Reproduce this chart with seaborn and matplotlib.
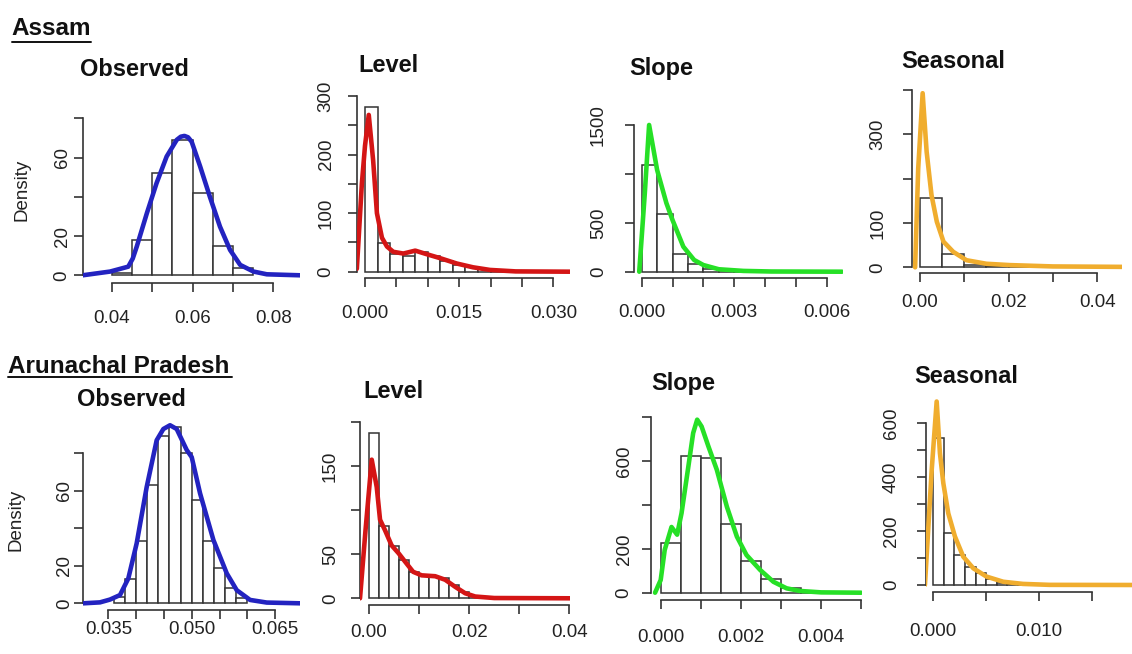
import numpy as np
import pandas as pd
import matplotlib
matplotlib.use("Agg")
import matplotlib.pyplot as plt
from matplotlib.lines import Line2D
import seaborn as sns

sns.set_theme(style="ticks")
plt.rcParams["font.family"] = ["Liberation Sans", "DejaVu Sans"]

# ---------------- Assam ----------------
assam_obs_edges = np.linspace(0.040, 0.075, 8)
assam_obs_hist = [1, 18, 52, 69, 42, 15, 3.6]
assam_obs_x = [0.0328, 0.0396, 0.0441, 0.0452, 0.0462, 0.0487, 0.0511, 0.0536, 0.0561,
               0.0571, 0.0580, 0.0589, 0.0598, 0.0619, 0.0643, 0.0668, 0.0693, 0.0718,
               0.0751, 0.0784, 0.0866]
assam_obs_y = [0, 1.9, 4.4, 8.5, 14.6, 31.6, 46.9, 60.5, 69, 70.6, 71, 70.3, 68, 55.4,
               40, 24.8, 12.9, 5.3, 1.9, 0.5, 0]

assam_level_edges = np.linspace(0.0, 0.024, 13)
assam_level_hist = [282, 49, 31, 27, 33, 26, 18, 12, 8, 5, 3, 2]
assam_level_x = [-0.0013, -0.0005, 0.0000, 0.0006, 0.0013, 0.0019, 0.0027, 0.0035, 0.0045,
                 0.0061, 0.0080, 0.0098, 0.0120, 0.0146, 0.0172, 0.0199, 0.0240, 0.0326]
assam_level_y = [5, 150, 215, 268, 190, 100, 58, 43, 34, 31, 36, 30, 23, 14, 7.5, 3, 0.5, 0]

assam_slope_edges = np.linspace(0.0, 0.0045, 10)
assam_slope_hist = [1091, 587, 181, 79, 30, 15, 8, 4, 2]
assam_slope_x = [-0.00008, 0.0001, 0.00024, 0.0005, 0.0008, 0.0010, 0.00135, 0.0017,
                 0.0020, 0.0025, 0.0033, 0.0042, 0.0065]
assam_slope_y = [0, 800, 1500, 1040, 702, 528, 256, 120, 68, 25, 8, 2, 0]

assam_seas_edges = np.linspace(0.0, 0.045, 10)
assam_seas_hist = [157, 29, 6, 3, 2, 1, 1, 0.5, 0.5]
assam_seas_x = [-0.0011, -0.0004, 0.0006, 0.0015, 0.0026, 0.0038, 0.0053, 0.0075, 0.0105,
                0.0150, 0.0203, 0.0300, 0.0457]
assam_seas_y = [0, 223, 393, 261, 163, 103, 58, 35, 16, 8, 5, 2, 1]

# ---------------- Arunachal Pradesh ----------------
arun_obs_edges = np.linspace(0.036, 0.060, 13)
arun_obs_hist = [3.5, 13, 33, 63, 89, 94, 80, 55, 33, 19, 8, 3]
arun_obs_x = [0.0305, 0.0335, 0.0353, 0.0371, 0.0386, 0.0401, 0.0419, 0.0437, 0.0449,
              0.0461, 0.0473, 0.0491, 0.0500, 0.0515, 0.0539, 0.0563, 0.0581, 0.0605,
              0.0635, 0.0695]
arun_obs_y = [0, 0.5, 2, 4.4, 13.3, 32, 62, 87, 93, 95, 93, 81.8, 78, 58.7, 33.8, 16, 7,
              1.8, 0.4, 0]

arun_level_edges = np.linspace(0.0, 0.024, 13)
arun_level_hist = [187.5, 82, 59, 43, 30, 25, 24.5, 22.6, 15, 7.5, 2.6, 1]
arun_level_x = [-0.0018, -0.0007, 0.00054, 0.00154, 0.0022, 0.0032, 0.0045, 0.0059, 0.0072,
                0.0088, 0.0105, 0.0132, 0.0152, 0.0172, 0.0192, 0.0212, 0.0250, 0.0401]
arun_level_y = [0, 77, 157, 126, 89, 77, 60, 51, 41.5, 30, 26, 25, 21, 13, 5.7, 2, 0.3, 0]

arun_slope_edges = np.linspace(0.0, 0.004, 9)
arun_slope_hist = [225, 625, 614, 312, 146, 62.5, 20, 5]
arun_slope_x = [-0.00014, 0.0, 0.0001, 0.00027, 0.00041, 0.00052, 0.00069, 0.00081,
                0.00091, 0.00102, 0.00119, 0.0014, 0.00165, 0.0019, 0.00214, 0.00248,
                0.00281, 0.00314, 0.00347, 0.0040, 0.0050]
arun_slope_y = [0, 58, 195, 300, 265, 363, 576, 729, 790, 759, 668, 561, 393, 256, 172,
                104, 50, 20, 8, 1.5, 0]

arun_seas_edges = np.linspace(0.0, 0.010, 11)
arun_seas_hist = [545, 194, 110, 66, 46, 22, 9, 4, 2, 1]
arun_seas_x = [-0.00079, -0.00015, 0.00032, 0.00063, 0.00095, 0.00142, 0.00205, 0.00284,
               0.00379, 0.00505, 0.00663, 0.0085, 0.011, 0.0188]
arun_seas_y = [0, 427, 681, 489, 378, 266, 180, 105, 62, 31, 12, 4, 0.5, 0]

# ---------------- panel titles ----------------
region_names = ["Assam", "Arunachal Pradesh"]
component_titles = ["Observed", "Level", "Slope", "Seasonal"]

BLUE, RED, GREEN, ORANGE = "#2323c0", "#d41515", "#26e026", "#f0ad2e"
INK = "#333333"

W, H = 1132, 654
fig = plt.figure(figsize=(W / 100, H / 100), dpi=100)


def px_axes(left, top, right, bottom):
    return fig.add_axes([left / W, 1 - bottom / H, (right - left) / W, (bottom - top) / H])


def panel(rect, xlim, ylim, xt, xl, yt, yl, edges, hist, cx, cy, color, xpad, ypad):
    ax = px_axes(*rect)
    edges = [float(e) for e in edges]
    centers = [(a + b) / 2 for a, b in zip(edges[:-1], edges[1:])]
    bins_df = pd.DataFrame({"value": centers, "density": [float(h) for h in hist]})
    sns.histplot(data=bins_df, x="value", weights="density", bins=edges, stat="count",
                 ax=ax, color="white", edgecolor=INK, linewidth=1.1, alpha=1, zorder=2)
    curve_df = pd.DataFrame({"value": cx, "density": cy})
    sns.lineplot(data=curve_df, x="value", y="density", ax=ax, color=color, lw=3.3,
                 sort=False, estimator=None, zorder=3)
    ax.set_xlim(*xlim)
    ax.set_ylim(*ylim)
    for s in ("top", "right"):
        ax.spines[s].set_visible(False)
    for s in ("left", "bottom"):
        ax.spines[s].set_color(INK)
        ax.spines[s].set_linewidth(1.2)
    ax.spines["left"].set_bounds(yt[0], yt[-1])
    ax.spines["bottom"].set_bounds(xt[0], xt[-1])
    ax.set_xticks(xt)
    ax.set_xticklabels(xl)
    ax.set_yticks(yt)
    ax.set_yticklabels(yl, rotation=90, va="center")
    ax.tick_params(direction="out", length=6.5, width=1.2, colors=INK,
                   labelcolor="#222222", labelsize=13.5)
    ax.tick_params(axis="x", pad=xpad * 0.72)
    ax.tick_params(axis="y", pad=ypad * 0.72)
    ax.set_xlabel("")
    ax.set_ylabel("")
    ax.patch.set_alpha(0)
    return ax


# top row: Assam
panel((82.7, 110, 300, 283.3), (0.03282, 0.08661), (-4.08, 84.2),
      [0.04, 0.05, 0.06, 0.07, 0.08], ["0.04", "", "0.06", "", "0.08"],
      [0, 20, 40, 60, 80], ["0", "20", "", "60", ""],
      assam_obs_edges, assam_obs_hist, assam_obs_x, assam_obs_y, BLUE, 18, 3)
panel((356.7, 90, 570, 278.3), (-0.00132, 0.03264), (-11.3, 310.6),
      [0, 0.005, 0.010, 0.015, 0.020, 0.025, 0.030],
      ["0.000", "", "", "0.015", "", "", "0.030"],
      [0, 50, 100, 150, 200, 250, 300], ["0", "", "100", "", "200", "", "300"],
      assam_level_edges, assam_level_hist, assam_level_x, assam_level_y, RED, 18, 13)
panel((634, 115, 843.3, 278.3), (-0.00025, 0.006539), (-67.5, 1602),
      [0, 0.001, 0.002, 0.003, 0.004, 0.005, 0.006],
      ["0.000", "", "", "0.003", "", "", "0.006"],
      [0, 500, 1000, 1500], ["0", "500", "", "1500"],
      assam_slope_edges, assam_slope_hist, assam_slope_x, assam_slope_y, GREEN, 17, 18)
panel((911.7, 85, 1122, 273.3), (-0.00187, 0.0456), (-13.5, 411.5),
      [0, 0.01, 0.02, 0.03, 0.04], ["0.00", "", "0.02", "", "0.04"],
      [0, 100, 200, 300, 400], ["0", "100", "", "300", ""],
      assam_seas_edges, assam_seas_hist, assam_seas_x, assam_seas_y, ORANGE, 12, 16)

# bottom row: Arunachal Pradesh
panel((83.3, 420, 300, 610), (0.0305, 0.06948), (-3.57, 97.8),
      [0.035, 0.040, 0.045, 0.050, 0.055, 0.060, 0.065],
      ["0.035", "", "", "0.050", "", "", "0.065"],
      [0, 20, 40, 60, 80], ["0", "20", "", "60", ""],
      arun_obs_edges, arun_obs_hist, arun_obs_x, arun_obs_y, BLUE, 2, 1)
panel((360, 415, 570, 605), (-0.0018, 0.04012), (-7.6, 207.6),
      [0, 0.01, 0.02, 0.03, 0.04], ["0.00", "", "0.02", "", "0.04"],
      [0, 50, 100, 150, 200], ["0", "50", "", "150", ""],
      arun_level_edges, arun_level_hist, arun_level_x, arun_level_y, RED, 10, 12)
panel((650.7, 412, 862, 600), (-0.000249, 0.00502), (-33.3, 825),
      [0, 0.001, 0.002, 0.003, 0.004, 0.005],
      ["0.000", "", "0.002", "", "0.004", ""],
      [0, 200, 400, 600, 800], ["0", "200", "", "600", ""],
      arun_slope_edges, arun_slope_hist, arun_slope_x, arun_slope_y, GREEN, 20, 9)
panel((926, 398, 1132, 591.7), (-0.00069, 0.01882), (-24.9, 694),
      [0, 0.005, 0.010, 0.015], ["0.000", "", "0.010", ""],
      [0, 100, 200, 300, 400, 500, 600], ["0", "", "200", "", "400", "", "600"],
      arun_seas_edges, arun_seas_hist, arun_seas_x, arun_seas_y, ORANGE, 22, 17)


def ftext(x, y, s, **kw):
    return fig.text(x / W, 1 - y / H, s, **kw)


# region headings, underlined
for name, (x0, yc, x1, yu) in zip(region_names, [(11.7, 28.3, 90.7, 41.5),
                                                  (8.3, 366.7, 232.3, 376.7)]):
    ftext(x0, yc, name, ha="left", va="center", fontsize=17.5, fontweight="bold",
          color="#111111")
    fig.add_artist(Line2D([x0 / W, x1 / W], [1 - yu / H, 1 - yu / H],
                          color="#111111", lw=1.4, transform=fig.transFigure))

# component titles
title_pos = [[(134.5, 70), (388.3, 65), (661.7, 69), (953.3, 61)],
             [(131, 399), (393, 392), (682.8, 383.3), (965.8, 376.7)]]
for row in title_pos:
    for t, (x, y) in zip(component_titles, row):
        ftext(x, y, t, ha="center", va="center", fontsize=17, fontweight="bold",
              color="#111111")

# y-axis labels
ftext(21.7, 190, "Density", rotation=90, ha="center", va="center", fontsize=13.5,
      color="#222222")
ftext(15.7, 520, "Density", rotation=90, ha="center", va="center", fontsize=13.5,
      color="#222222")

fig.savefig("out.png", dpi=100)
